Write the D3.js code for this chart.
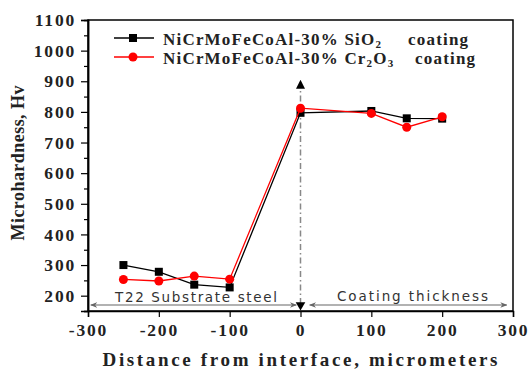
<!DOCTYPE html>
<html>
<head>
<meta charset="utf-8">
<script src="https://cdn.jsdelivr.net/npm/d3@7"></script>
<style>
  body { margin: 0; background: #fff; }
  .tick text { font-family: "Liberation Serif", "Times New Roman", serif; font-weight: bold; font-size: 17.5px; letter-spacing: 1.8px; fill: #222; }
</style>
</head>
<body>
<div class="canvas"></div>
<script>
// data
const distance = [-250, -200, -150, -100, 0, 100, 150, 200];
const sio2Hv = [300, 278, 236, 227, 797, 803, 779, 778];
const cr2o3Hv = [253, 248, 264, 254, 812, 795, 750, 784];
const xTicks = [-300, -200, -100, 0, 100, 200, 300];
const yTicks = [200, 300, 400, 500, 600, 700, 800, 900, 1000, 1100];
const yMinor = [150, 250, 350, 450, 550, 650, 750, 850, 950, 1050];

const svgWidth = 528, svgHeight = 372;
const margine = { top: 20, right: 15, buttom: 61, left: 88 };
const graphWidth = svgWidth - margine.left - margine.right;
const graphHeight = svgHeight - margine.top - margine.buttom;

const svg = d3.select('.canvas').append('svg')
  .attr("width", svgWidth)
  .attr("height", svgHeight);

const graph = svg.append('g')
  .attr("transform", `translate(${margine.left} ${margine.top})`);

const xScale = d3.scaleLinear().domain([-300, 300]).range([0, graphWidth]);
const yScale = d3.scaleLinear().domain([150, 1100]).range([graphHeight, 0]);

// frame
graph.append('rect')
  .attr("width", graphWidth)
  .attr("height", graphHeight)
  .attr("fill", "none")
  .attr("stroke", "#000")
  .attr("stroke-width", 1.5);

// axes (plain hyphen for negatives, like the original)
const plain = d => String(d);
graph.append('g')
  .call(d3.axisLeft(yScale).tickValues(yTicks).tickSize(7).tickPadding(5).tickFormat(plain));
graph.append('g')
  .call(d3.axisLeft(yScale).tickValues(yMinor).tickSize(4).tickFormat(""));
const xAxisGroup = graph.append('g')
  .attr("transform", `translate(0 ${graphHeight})`)
  .call(d3.axisBottom(xScale).tickValues(xTicks).tickSize(6).tickPadding(5).tickFormat(plain));
graph.selectAll('.domain').attr("stroke", "#000").attr("stroke-width", 1.5);
graph.selectAll('.tick line').attr("stroke", "#000").attr("stroke-width", 1.2);
xAxisGroup.selectAll('.tick text').attr("dy", "0.78em");

// arrow markers
const defs = svg.append('defs');
defs.append('marker')
  .attr("id", "grayArrow")
  .attr("viewBox", "0 0 10 10")
  .attr("refX", 9).attr("refY", 5)
  .attr("markerWidth", 7).attr("markerHeight", 7)
  .attr("markerUnits", "userSpaceOnUse")
  .attr("orient", "auto-start-reverse")
  .append('path')
  .attr("d", "M0,1 L10,5 L0,9 L3,5 Z")
  .attr("fill", "#666");
defs.append('marker')
  .attr("id", "blackArrow")
  .attr("viewBox", "0 0 10 10")
  .attr("refX", 10).attr("refY", 5)
  .attr("markerWidth", 9).attr("markerHeight", 9)
  .attr("markerUnits", "userSpaceOnUse")
  .attr("orient", "auto")
  .append('path')
  .attr("d", "M0,0 L10,5 L0,10 Z")
  .attr("fill", "#000");

// interface line at x = 0
graph.append('line')
  .attr("x1", xScale(0)).attr("x2", xScale(0))
  .attr("y1", graphHeight - 7).attr("y2", yScale(905))
  .attr("stroke", "#888")
  .attr("stroke-width", 1.5)
  .attr("stroke-dasharray", "6,3,1.5,3")
  .attr("marker-end", "url(#blackArrow)");

// substrate / coating arrows
const arrowY = graphHeight - 6;
graph.append('line')
  .attr("x1", xScale(-296)).attr("x2", xScale(-6))
  .attr("y1", arrowY).attr("y2", arrowY)
  .attr("stroke", "#666").attr("stroke-width", 1.2)
  .attr("marker-start", "url(#grayArrow)")
  .attr("marker-end", "url(#grayArrow)");
graph.append('line')
  .attr("x1", xScale(13)).attr("x2", xScale(291))
  .attr("y1", arrowY).attr("y2", arrowY)
  .attr("stroke", "#666").attr("stroke-width", 1.2)
  .attr("marker-start", "url(#grayArrow)")
  .attr("marker-end", "url(#grayArrow)");
graph.append('path')
  .attr("d", d3.symbol(d3.symbolTriangle, 40)())
  .attr("transform", `translate(${xScale(0)} ${arrowY}) rotate(180)`)
  .attr("fill", "#000");

graph.append('text')
  .attr("x", 27).attr("y", graphHeight - 9.5)
  .attr("font-family", "DejaVu Sans, sans-serif")
  .attr("font-size", 13.5)
  .attr("textLength", 162)
  .attr("lengthAdjust", "spacing")
  .attr("fill", "#333")
  .text("T22 Substrate steel");
graph.append('text')
  .attr("x", 249).attr("y", graphHeight - 10.5)
  .attr("font-family", "DejaVu Sans, sans-serif")
  .attr("font-size", 13.5)
  .attr("textLength", 151)
  .attr("lengthAdjust", "spacing")
  .attr("fill", "#333")
  .text("Coating thickness");

// series
const seriesList = [
  { name: "SiO2", values: sio2Hv, color: "#000", symbol: "square" },
  { name: "Cr2O3", values: cr2o3Hv, color: "#ff0000", symbol: "circle" }
];
const line = d3.line().x(d => xScale(d[0])).y(d => yScale(d[1]));

seriesList.forEach(s => {
  const pts = distance.map((d, i) => [d, s.values[i]]);
  graph.append('path')
    .attr("d", line(pts))
    .attr("fill", "none")
    .attr("stroke", s.color)
    .attr("stroke-width", 1.3);
  if (s.symbol === "square") {
    graph.selectAll('rect.sq').data(pts).enter().append('rect')
      .attr("class", "sq")
      .attr("x", d => xScale(d[0]) - 4).attr("y", d => yScale(d[1]) - 4)
      .attr("width", 8).attr("height", 8)
      .attr("fill", s.color);
  } else {
    graph.selectAll('circle.ci').data(pts).enter().append('circle')
      .attr("class", "ci")
      .attr("cx", d => xScale(d[0])).attr("cy", d => yScale(d[1]))
      .attr("r", 4.5)
      .attr("fill", s.color);
  }
});

// legend
const legendGroup = svg.append('g');
const legendRows = [
  { y: 38, color: "#000", symbol: "square", parts: [["NiCrMoFeCoAl-30% SiO", 0], ["2", 1]], tailX: 408 },
  { y: 57, color: "#ff0000", symbol: "circle", parts: [["NiCrMoFeCoAl-30% Cr", 0], ["2", 1], ["O", 0], ["3", 1]], tailX: 415 }
];
const legendFont = t => t
  .attr("font-family", "Liberation Serif, serif")
  .attr("font-weight", "bold")
  .attr("font-size", 17)
  .attr("letter-spacing", 1.2)
  .attr("fill", "#222");
legendRows.forEach(r => {
  legendGroup.append('line')
    .attr("x1", 114).attr("x2", 154)
    .attr("y1", r.y).attr("y2", r.y)
    .attr("stroke", r.color).attr("stroke-width", 1.5);
  if (r.symbol === "square") {
    legendGroup.append('rect')
      .attr("x", 129).attr("y", r.y - 4).attr("width", 8).attr("height", 8)
      .attr("fill", r.color);
  } else {
    legendGroup.append('circle')
      .attr("cx", 133).attr("cy", r.y).attr("r", 4.5)
      .attr("fill", r.color);
  }
  const t = legendFont(legendGroup.append('text')
    .attr("x", 163).attr("y", r.y + 7));
  r.parts.forEach(p => {
    t.append('tspan')
      .attr("font-size", p[1] ? 11 : 17)
      .attr("baseline-shift", p[1] ? "-25%" : null)
      .text(p[0]);
  });
  legendFont(legendGroup.append('text')
    .attr("x", r.tailX).attr("y", r.y + 7))
    .text("coating");
});

// axis titles
svg.append('text')
  .attr("x", 300).attr("y", 366)
  .attr("text-anchor", "middle")
  .attr("font-family", "Liberation Serif, serif")
  .attr("font-weight", "bold")
  .attr("font-size", 19)
  .attr("textLength", 395)
  .attr("lengthAdjust", "spacing")
  .attr("fill", "#222")
  .text("Distance from interface, micrometers");
svg.append('text')
  .attr("transform", "translate(24 163) rotate(-90)")
  .attr("text-anchor", "middle")
  .attr("font-family", "Liberation Serif, serif")
  .attr("font-weight", "bold")
  .attr("font-size", 18)
  .attr("textLength", 155)
  .attr("lengthAdjust", "spacing")
  .attr("fill", "#222")
  .text("Microhardness, Hv");
</script>
</body>
</html>
